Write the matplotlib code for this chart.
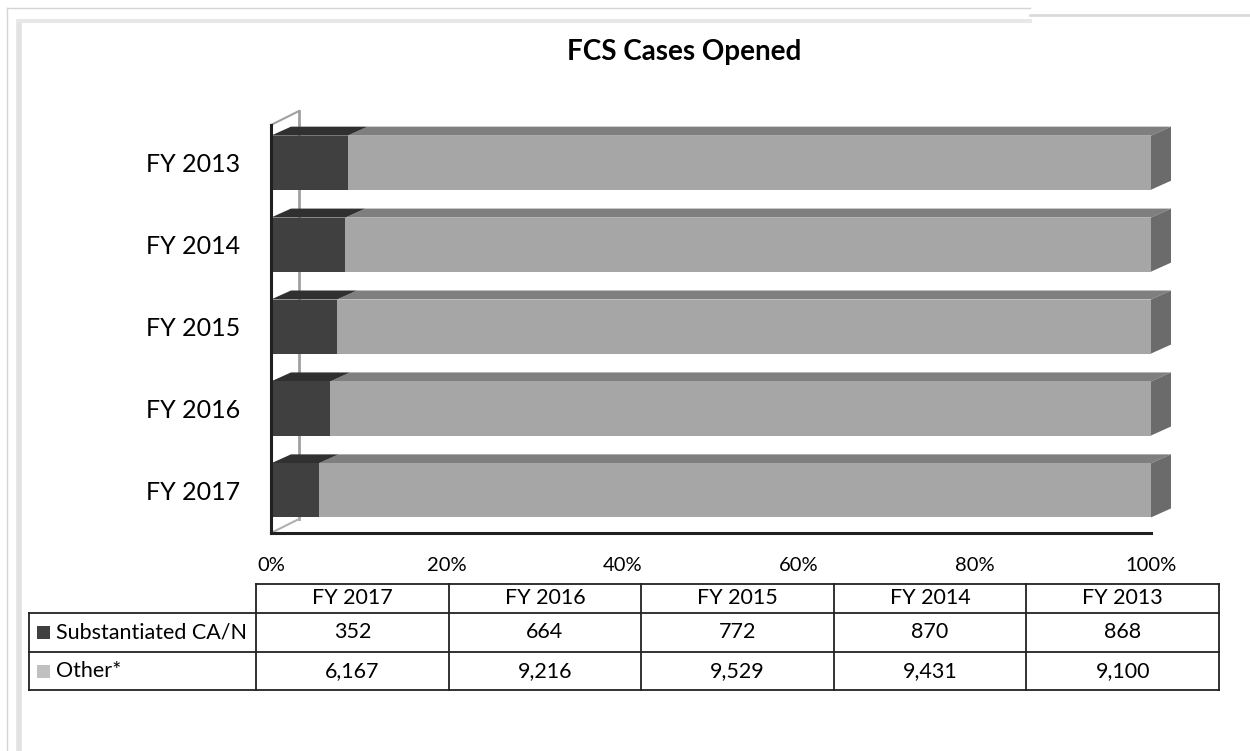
import matplotlib
matplotlib.use('Agg')
import matplotlib.pyplot as plt
from matplotlib.patches import Polygon, Rectangle
import numpy as np

plt.rcParams['font.family'] = ['Lato', 'DejaVu Sans']

# data, table order (FY 2017 first)
years = ['FY 2017', 'FY 2016', 'FY 2015', 'FY 2014', 'FY 2013']
substantiated = [352, 664, 772, 870, 868]
other = [6167, 9216, 9529, 9431, 9100]
series_names = ['Substantiated CA/N', 'Other*']
title = 'FCS Cases Opened'

W, H = 1250, 751
fig = plt.figure(figsize=(W / 100, H / 100), dpi=100)
fig.patch.set_facecolor('white')

# plot area in pixels
px_left, px_right, px_top, px_bottom = 271, 1151, 125, 533
ax = fig.add_axes([px_left / W, (H - px_bottom) / H,
                   (px_right - px_left) / W, (px_bottom - px_top) / H])
ymin, ymax = -0.52, 4.46
ax.set_xlim(0, 1)
ax.set_ylim(ymin, ymax)
for s in ax.spines.values():
    s.set_visible(False)

sub = np.array(substantiated, dtype=float)
oth = np.array(other, dtype=float)
frac = sub / (sub + oth)
ypos = np.arange(len(years))
h = 0.66

# depth of bars and wall, px converted to data units
xs = 1.0 / (px_right - px_left)
ys = (ymax - ymin) / (px_bottom - px_top)
dx, dy = 20 * xs, 9 * ys
wdx, wdy = 28 * xs, 14 * ys

dark_front, dark_top = '#404040', '#303030'
light_front, light_top, side = '#a6a6a6', '#7f7f7f', '#6b6b6b'

# back wall / floor edges
ax.plot([wdx, wdx], [ymin + wdy, ymax + wdy], color='#a0a0a0', lw=2, clip_on=False, zorder=1)
ax.plot([0, wdx], [ymax, ymax + wdy], color='#a0a0a0', lw=1.5, clip_on=False, zorder=1)
ax.plot([0, wdx], [ymin, ymin + wdy], color='#b0b0b0', lw=1.5, clip_on=False, zorder=1)

for y, f in zip(ypos, frac):
    yt = y + h / 2
    yb = y - h / 2
    # top faces
    ax.add_patch(Polygon([(f, yt), (1, yt), (1 + dx, yt + dy), (f + dx, yt + dy)],
                         closed=True, fc=light_top, ec='none', clip_on=False, zorder=2))
    ax.add_patch(Polygon([(0, yt), (f, yt), (f + dx, yt + dy), (dx, yt + dy)],
                         closed=True, fc=dark_top, ec='none', clip_on=False, zorder=3))
    # right side face
    ax.add_patch(Polygon([(1, yb), (1, yt), (1 + dx, yt + dy), (1 + dx, yb + dy)],
                         closed=True, fc=side, ec='none', clip_on=False, zorder=2))

ax.barh(ypos, frac, height=h, color=dark_front, zorder=4, clip_on=False)
ax.barh(ypos, 1 - frac, left=frac, height=h, color=light_front, zorder=4, clip_on=False)

# front axis lines
ax.plot([0, 0], [ymin, ymax], color='#202020', lw=2.2, clip_on=False, zorder=5)
ax.plot([0, 1], [ymin, ymin], color='#202020', lw=2.2, clip_on=False, zorder=5)

ax.set_yticks(ypos)
ax.set_yticklabels(years, fontsize=18)
ax.set_xticks(np.linspace(0, 1, 6))
ax.set_xticklabels(['{:.0f}%'.format(v * 100) for v in np.linspace(0, 1, 6)], fontsize=14.5)
ax.tick_params(axis='y', length=0, pad=22)
ax.tick_params(axis='x', length=0, pad=17)

# overlay in pixel coordinates for title, frame and data table
ov = fig.add_axes([0, 0, 1, 1], zorder=-1)
ov.set_xlim(0, W)
ov.set_ylim(H, 0)
ov.axis('off')
ov.patch.set_alpha(0)

# frame / shadow
ov.plot([7, 7], [8, H], color='#d4d4d4', lw=1)
ov.plot([7, 1030], [8, 8], color='#d4d4d4', lw=1)
ov.plot([19, 19], [22, H], color='#e2e2e2', lw=4)
ov.plot([19, 1030], [21, 21], color='#e8e8e8', lw=3)
ov.plot([1030, W], [15, 15], color='#dadada', lw=2)

ov.text(684, 52, title, ha='center', va='center', fontsize=20, fontweight='bold')

tab = fig.add_axes([0, 0, 1, 1], zorder=2)
tab.set_xlim(0, W)
tab.set_ylim(H, 0)
tab.axis('off')
tab.patch.set_alpha(0)

col_edges = np.linspace(256, 1219, len(years) + 1)
row_edges = [584, 613, 652, 690]
lab_left = 29
lc, lw = '#222222', 1.3
tab.plot([col_edges[0], col_edges[-1]], [row_edges[0]] * 2, color=lc, lw=lw)
for r in row_edges[1:]:
    tab.plot([lab_left, col_edges[-1]], [r, r], color=lc, lw=lw)
for c in col_edges:
    tab.plot([c, c], [row_edges[0], row_edges[-1]], color=lc, lw=lw)
tab.plot([lab_left, lab_left], [row_edges[1], row_edges[-1]], color=lc, lw=lw)

centers = (col_edges[:-1] + col_edges[1:]) / 2
hy = (row_edges[0] + row_edges[1]) / 2
for cx, yr in zip(centers, years):
    tab.text(cx, hy, yr, ha='center', va='center', fontsize=15.5)

key_colors = [dark_front, '#c0c0c0']
for i, (name, vals, kc) in enumerate(zip(series_names, [substantiated, other], key_colors)):
    ry = (row_edges[i + 1] + row_edges[i + 2]) / 2
    tab.add_patch(Rectangle((37, ry - 6.5), 13, 13, fc=kc, ec='none'))
    tab.text(56, ry, name, ha='left', va='center', fontsize=15.5)
    for cx, v in zip(centers, vals):
        tab.text(cx, ry, '{:,}'.format(v), ha='center', va='center', fontsize=15.5)

fig.savefig('out.png', dpi=100)
